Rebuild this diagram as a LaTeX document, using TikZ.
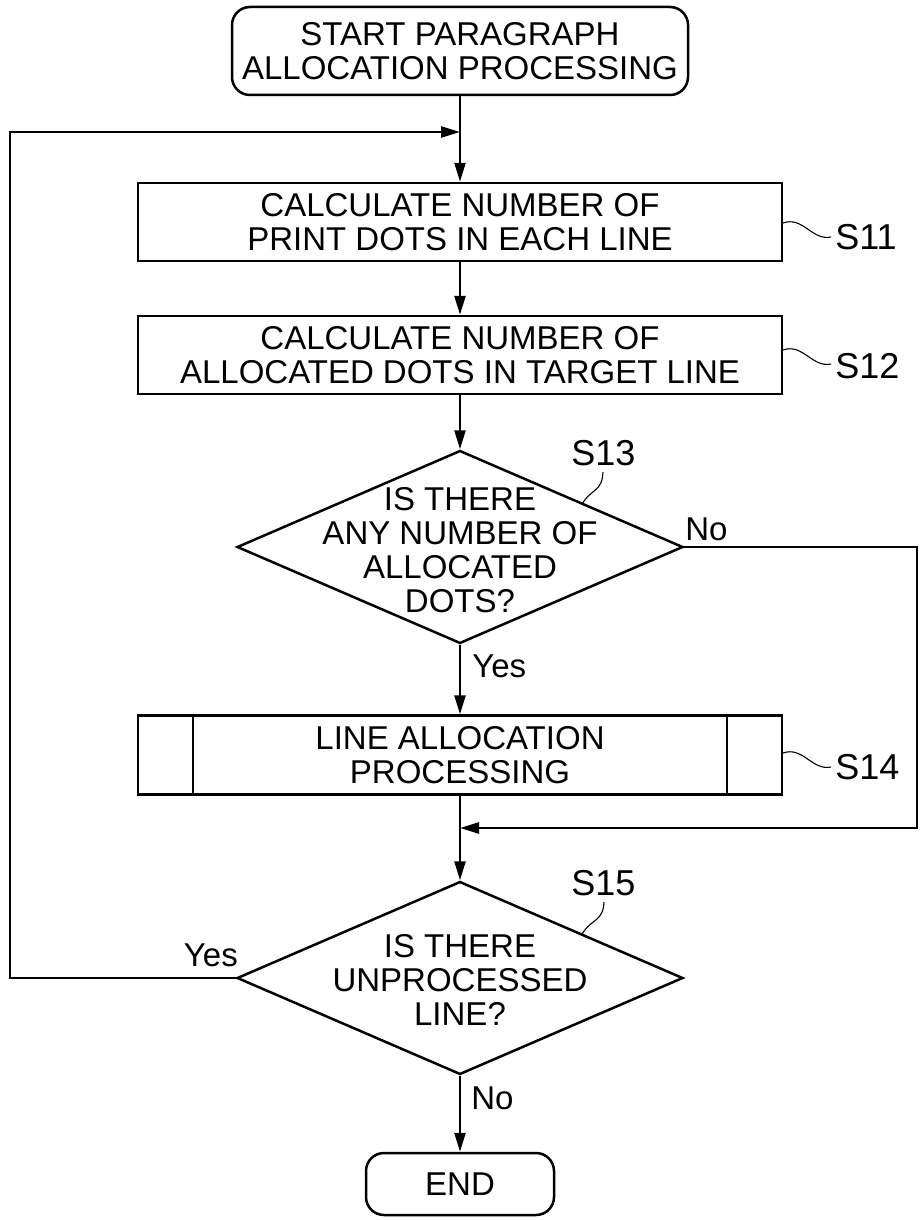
\documentclass[tikz,border=0pt]{standalone}
\usepackage{fontspec}
\setmainfont{Liberation Sans}
\usetikzlibrary{shapes.geometric,arrows.meta}
\begin{document}
\begin{tikzpicture}[x=1pt,y=-1pt,
  line width=2.5pt,
  every node/.style={font=\fontsize{33}{34}\selectfont, inner sep=0pt},
  proc/.style={draw, minimum width=644pt, minimum height=78pt, align=center},
  term/.style={draw, rounded corners=18pt, align=center},
  dec/.style={draw, diamond, minimum width=446pt, minimum height=193pt},
  dectext/.style={align=center},
  arr/.style={-{Triangle[length=19pt,width=11pt]}},
  lead/.style={line width=1.1pt},
  slabel/.style={anchor=base west, font=\fontsize{36}{38}\selectfont},
  yn/.style={anchor=base west}
]
\useasboundingbox (0,0) rectangle (919,1220);

% nodes
\node[term, minimum width=456pt, minimum height=88pt] (start) at (460,51) {START PARAGRAPH\\ALLOCATION PROCESSING};
\coordinate (j) at (460,132);
\node[proc] (s11) at (460,222) {CALCULATE NUMBER OF\\PRINT DOTS IN EACH LINE};
\node[proc] (s12) at (460,355) {CALCULATE NUMBER OF\\ALLOCATED DOTS IN TARGET LINE};
\node[dec] (d13) at (460,547) {};
\node[dectext] (t13) at (460,550) {IS THERE\\ANY NUMBER OF\\ALLOCATED\\DOTS?};
\node[proc, minimum height=79pt] (s14) at (460,755) {LINE ALLOCATION\\PROCESSING};
\draw (193,715) -- (193,794) (727,715) -- (727,794);
\coordinate (m) at (460,828);
\node[dec] (d15) at (460,978) {};
\node[dectext] (t15) at (460,980) {IS THERE\\UNPROCESSED\\LINE?};
\node[term, minimum width=188pt, minimum height=62pt] (end) at (460,1184) {END};

% connectors
\draw[arr] (start.south) -- (s11.north);
\draw[arr] (s11.south) -- (s12.north);
\draw[arr] (s12.south) -- (d13.north);
\draw[arr] (d13.south) -- (s14.north);
\draw[arr] (s14.south) -- (d15.north);
\draw[arr] (d15.south) -- (end.north);
\coordinate (r1) at (917,547);
\coordinate (r2) at (917,828);
\draw[arr] (d13.east) -- (r1) -- (r2) -- (m);
\coordinate (l1) at (10,978);
\coordinate (l2) at (10,132);
\draw[arr] (d15.west) -- (l1) -- (l2) -- (j);

% labels
\node[yn] (no13) at (684,540) {No};
\node[yn] (yes13) at (471,677) {Yes};
\node[anchor=base east] (yes15) at (239,966) {Yes};
\node[yn] (no15) at (470,1109) {No};

\node[slabel] (l11) at (834,249) {S11};
\node[slabel] (l12) at (834,378) {S12};
\node[slabel] (l14) at (834,779) {S14};
\node[slabel] (l13) at (570,465) {S13};
\node[slabel] (l15) at (570,895) {S15};

% leaders
\coordinate (a11) at (783,223); \coordinate (b11) at (831,237);
\draw[lead] (a11) .. controls (803,216) and (812,241) .. (b11);
\coordinate (a12) at (783,350); \coordinate (b12) at (831,364);
\draw[lead] (a12) .. controls (803,343) and (812,368) .. (b12);
\coordinate (a14) at (783,753); \coordinate (b14) at (831,767);
\draw[lead] (a14) .. controls (803,746) and (812,771) .. (b14);
\coordinate (a13) at (582,504); \coordinate (b13) at (603,472);
\draw[lead] (a13) .. controls (592,488) and (602,492) .. (b13);
\coordinate (a15) at (582,934); \coordinate (b15) at (604,902);
\draw[lead] (a15) .. controls (592,918) and (603,922) .. (b15);
\end{tikzpicture}
\end{document}
